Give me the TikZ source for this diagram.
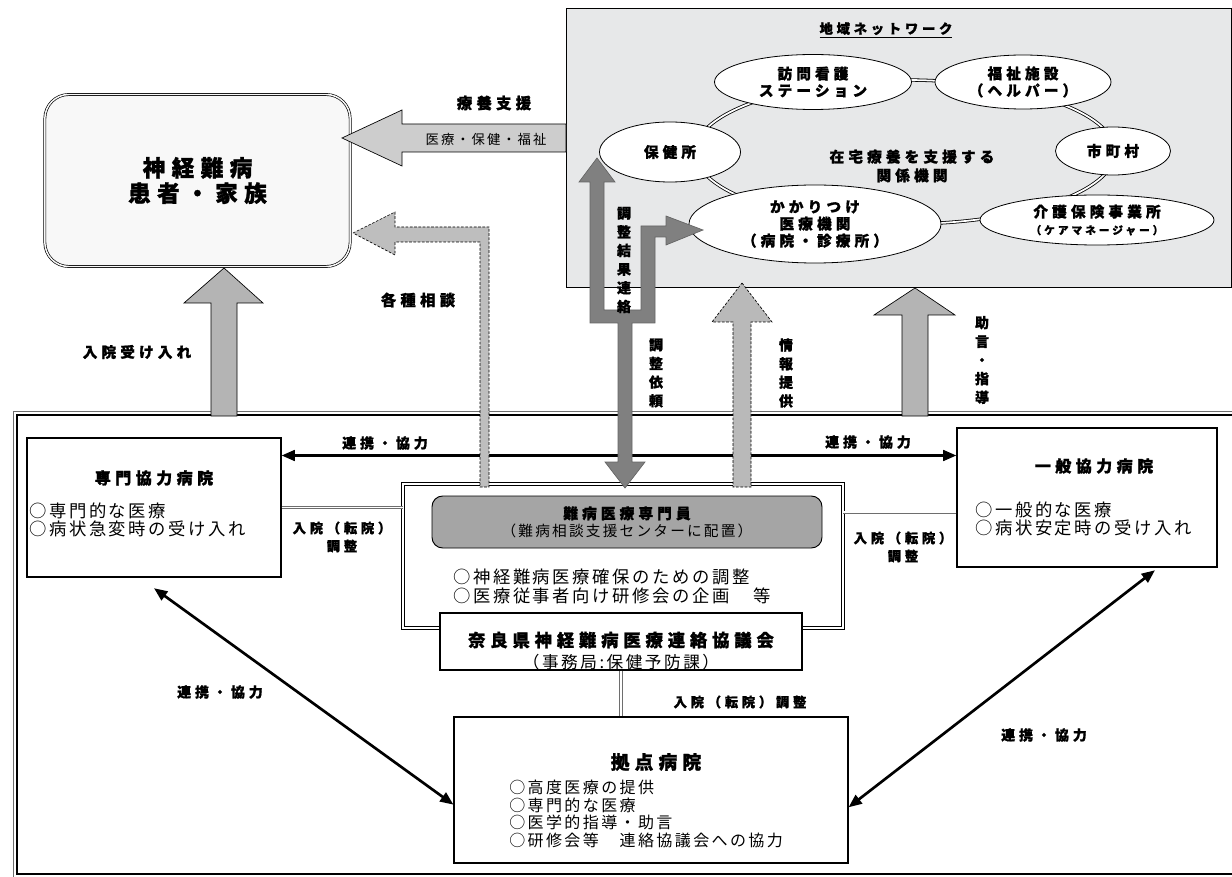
\documentclass[tikz,border=0pt]{standalone}
\usepackage{fontspec}
\setmainfont{Noto Sans CJK JP}
\newfontfamily\jp[LetterSpace=15]{Noto Sans CJK JP}
\newfontfamily\jpb[LetterSpace=28, FakeBold=1.2]{Noto Sans CJK JP}
\usetikzlibrary{shapes.geometric,arrows.meta}

\begin{document}
\begin{tikzpicture}[x=0.75pt,y=0.75pt,yscale=-1,xscale=1,
  netnode/.style={draw, line width=0.6pt, fill=white, ellipse, inner sep=0pt, align=center, font=\jpb\bfseries\fontsize{11}{12.75}\selectfont},
  lbl/.style={inner sep=0pt, align=center, font=\jpb\bfseries\fontsize{11}{13}\selectfont},
  lbl2/.style={inner sep=0pt, align=center, font=\jpb\bfseries\fontsize{10}{13.5}\selectfont},
  vlbl/.style={inner sep=0pt, align=center, font=\jpb\bfseries\fontsize{10.5}{14}\selectfont},
  ttl/.style={inner sep=0pt, font=\jpb\bfseries\fontsize{12}{14}\selectfont},
  item/.style={inner sep=0pt, anchor=west, align=left, font=\jp\fontsize{13}{13.8}\selectfont},
  hbox/.style={draw, line width=0.8pt, fill=white, inner sep=0pt},
  dbl/.style={draw={rgb, 255:red, 110; green, 110; blue, 110}, line width=0.5pt, double=white, double distance=1.4pt},
  renkei/.style={line width=2pt, {Triangle[length=10pt,width=8pt]}-{Triangle[length=10pt,width=8pt]}},
  blkarrow/.style={draw=black, line width=0.5pt, fill={rgb, 255:red, 180; green, 180; blue, 180}},
  dasharrow/.style={blkarrow, dash pattern=on 2pt off 1.2pt}
]
\useasboundingbox (0,0) rectangle (1232,877);

%Shape: Rectangle [network]
\draw [line width=0.6pt, fill={rgb, 255:red, 231; green, 232; blue, 233 }] (566,8) rectangle (1231,287);
% Text Node
\draw (886,30) node [lbl, font=\jpb\bfseries\fontsize{10}{12}\selectfont] (nettitle) {\underline{地域ネットワーク}};
%Shape: Ellipse [ring]
\draw [line width=0.6pt, double=white, double distance=1.3pt] (905,152) ellipse [x radius=210, y radius=72];

%Shape: Ellipse
\draw (670,152) node [netnode, minimum width=105.75pt, minimum height=45pt] (hokenjo) {保健所};
\draw (813,82) node [netnode, minimum width=147.75pt, minimum height=41.25pt] (houmon) {訪問看護\\ステーション};
\draw (1023,82) node [netnode, minimum width=132pt, minimum height=40.5pt] (fukushi) {福祉施設\\（ヘルパー）};
\draw (1113,151) node [netnode, minimum width=86.25pt, minimum height=36pt] (shichoson) {市町村};
\draw (815,224) node [netnode, minimum width=189pt, minimum height=58.5pt] (kakari) {かかりつけ\\医療機関\\（病院・診療所）};
\draw (1097,220) node [netnode, minimum width=175.5pt, minimum height=37.5pt] (kaigo) {介護保険事業所\\{\fontsize{8}{10}\selectfont（ケアマネージャー）}};
% Text Node
\draw (912,166) node [lbl, font=\jpb\bfseries\fontsize{11}{14}\selectfont] (zaitaku) {在宅療養を支援する\\関係機関};

%Shape: Rounded Rectangle [patient]
\draw (197.5,180.5) node [draw, line width=0.5pt, double={rgb, 255:red, 248; green, 248; blue, 248 }, double distance=1.1pt, rounded corners=18pt, fill={rgb, 255:red, 248; green, 248; blue, 248 }, minimum width=229pt, minimum height=129pt, align=center, font=\jpb\bfseries\fontsize{17}{19}\selectfont] (patient) {神経難病\\患者・家族};

%Shape: Frame
\draw [line width=0.5pt, draw={rgb, 255:red, 110; green, 110; blue, 110 }] (13,411) rectangle (1250,884);
\draw [line width=2.2pt] (17,415) rectangle (1246,874);

%Shape: Rectangle [hospitals]
\draw (154,507.5) node [hbox, minimum width=190.5pt, minimum height=104.25pt] (senmon) {};
\draw (1087,497.5) node [hbox, minimum width=195pt, minimum height=104.25pt] (ippan) {};
\draw (651,790) node [hbox, minimum width=295.5pt, minimum height=109.5pt] (kyoten) {};
\draw (623,556) node [draw, line width=0.5pt, double=white, double distance=1.4pt, fill=white, minimum width=330pt, minimum height=108pt] (center) {};
\draw (627,522) node [draw, line width=0.7pt, fill={rgb, 255:red, 165; green, 165; blue, 165 }, rounded corners=8pt, minimum width=292.5pt, minimum height=39pt, align=center, font=\fontsize{11}{13}\selectfont] (senmonin) {{\jpb\bfseries 難病医療専門員}\\{\jp （難病相談支援センターに配置）}};
\draw (621,641.5) node [hbox, minimum width=271.5pt, minimum height=42.75pt] (kyogikai) {};

% Text Node
\draw (154,478) node [ttl] (senmonttl) {専門協力病院};
\draw (29,520) node [item] (senmonitems) {○専門的な医療\\○病状急変時の受け入れ};
\draw (1094,466) node [ttl] (ippanttl) {一般協力病院};
\draw (975,519) node [item] (ippanitems) {○一般的な医療\\○病状安定時の受け入れ};
\draw (656,762) node [ttl, font=\jpb\bfseries\fontsize{14}{16}\selectfont] (kyotenttl) {拠点病院};
\draw (509,814) node [item, font=\jp\fontsize{12}{13.3}\selectfont] (kyotenitems) {○高度医療の提供\\○専門的な医療\\○医学的指導・助言\\○研修会等　連絡協議会への協力};
\draw (453,586.5) node [item] (centeritems) {○神経難病医療確保のための調整\\○医療従事者向け研修会の企画\hspace{18pt}等};
\draw (621,651) node [inner sep=0pt, align=center, font=\fontsize{12.5}{16.5}\selectfont] (kyogikaitxt) {{\jpb\bfseries\fontsize{13}{16.5}\selectfont 奈良県神経難病医療連絡協議会}\\{\jp （事務局:保健予防課）}};

%Straight Lines [double]
\draw [dbl] (senmon.east) -- (senmon.east -| center.west);
\coordinate (ir) at ([yshift=11pt]ippan.west);
\draw [dbl] (ir) -- (ir -| center.east);
\draw [dbl] (kyogikai.south) -- (kyogikai.south |- kyoten.north);

%Straight Lines [renkei]
\coordinate (rl) at ([yshift=-39pt]senmon.east);
\draw [renkei] (rl) -- (rl -| ippan.west);
\draw [renkei] ([yshift=8pt]senmon.south) -- ([yshift=11pt]kyoten.west);
\draw [renkei] ([xshift=51pt,yshift=2pt]ippan.south) -- ([yshift=13pt]kyoten.east);

%Shape: Arrow [ryoyo]
\draw [blkarrow, fill={rgb, 255:red, 205; green, 205; blue, 205 }] (342,138) -- (402,110) -- (402,124) -- (566,124) -- (566,152) -- (402,152) -- (402,166) -- cycle;
%Shape: Arrow [kakushu]
\draw [dasharrow, fill={rgb, 255:red, 190; green, 190; blue, 190 }] (353,233) -- (395,212) -- (395,227) -- (489,227) -- (489,487) -- (480,487) -- (480,242) -- (395,242) -- (395,255) -- cycle;
%Shape: Arrow [nyuin]
\draw [blkarrow] (224,268) -- (263,303) -- (237,303) -- (237,416) -- (211,416) -- (211,303) -- (184,303) -- cycle;
%Shape: Arrow [chosei]
\draw [line width=0.5pt, draw={rgb, 255:red, 100; green, 100; blue, 100 }, fill={rgb, 255:red, 128; green, 128; blue, 128 }] (597,158) -- (615,182) -- (604,182) -- (604,310) -- (641,310) -- (641,226) -- (666,226) -- (666,216) -- (703,230) -- (666,245) -- (666,237) -- (655,237) -- (655,323) -- (632,323) -- (632,462) -- (645,462) -- (625,488) -- (605,462) -- (618,462) -- (618,323) -- (590,323) -- (590,182) -- (579,182) -- cycle;
%Shape: Arrow [joho]
\draw [dasharrow, fill={rgb, 255:red, 185; green, 185; blue, 185 }] (742,283) -- (772,322) -- (751,322) -- (751,487) -- (733,487) -- (733,322) -- (712,322) -- cycle;
%Shape: Arrow [jogen]
\draw [blkarrow] (915,288) -- (955,315) -- (928,315) -- (928,416) -- (902,416) -- (902,315) -- (874,315) -- cycle;

% Text Node
\draw (494,103) node [lbl, font=\jpb\bfseries\fontsize{11.5}{13}\selectfont] (ryoyolbl) {療養支援};
\draw (486,139) node [inner sep=0pt, font=\jp\fontsize{10}{12}\selectfont] (iryolbl) {医療・保健・福祉};
\draw (418,300) node [lbl, font=\jpb\bfseries\fontsize{11.5}{13}\selectfont] (kakushulbl) {各種相談};
\draw (137,352) node [lbl] (nyuinlbl) {入院受け入れ};
\draw (624,260) node [vlbl] (kekkalbl) {調\\整\\結\\果\\連\\絡};
\draw (656,373) node [vlbl] (irailbl) {調\\整\\依\\頼};
\draw (786,373) node [vlbl] (joholbl) {情\\報\\提\\供};
\draw (982,360) node [vlbl] (jogenlbl) {助\\言\\・\\指\\導};
\draw (385,443) node [lbl, font=\jpb\bfseries\fontsize{10.5}{13}\selectfont] (renkei1) {連携・協力};
\draw (868,442) node [lbl, font=\jpb\bfseries\fontsize{10.5}{13}\selectfont] (renkei2) {連携・協力};
\draw (220,692) node [lbl, font=\jpb\bfseries\fontsize{10.5}{13}\selectfont] (renkei3) {連携・協力};
\draw (1044,735) node [lbl, font=\jpb\bfseries\fontsize{10.5}{13}\selectfont] (renkei4) {連携・協力};
\draw (342,537) node [lbl2] (tenin1) {入院（転院）\\調整};
\draw (903,547) node [lbl2] (tenin2) {入院（転院）\\調整};
\draw (740,702) node [lbl2] (tenin3) {入院（転院）調整};

\end{tikzpicture}
\end{document}
